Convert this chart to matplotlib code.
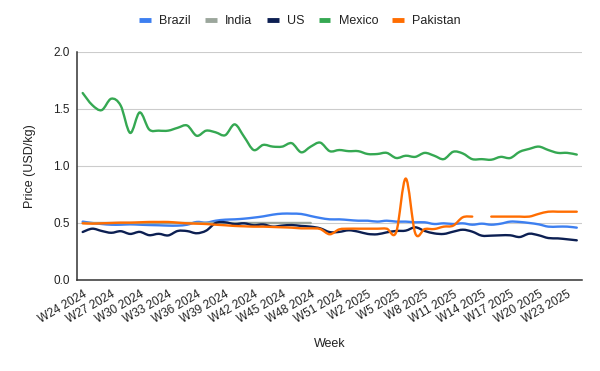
import numpy as np
import matplotlib
matplotlib.use("Agg")
import matplotlib.pyplot as plt
from matplotlib.path import Path
from matplotlib.patches import PathPatch
from matplotlib.lines import Line2D

plt.rcParams['font.family'] = ['Liberation Sans', 'DejaVu Sans']

nan = np.nan

# week categories, W24 2024 .. W24 2025
weeks = [f"W{w} 2024" for w in range(24, 53)] + [f"W{w} 2025" for w in range(1, 25)]

brazil = [0.512, 0.50, 0.491, 0.485, 0.485, 0.488, 0.485, 0.482, 0.48, 0.477,
          0.477, 0.485, 0.509, 0.503, 0.52, 0.529, 0.532, 0.538, 0.547, 0.558,
          0.573, 0.582, 0.582, 0.579, 0.561, 0.544, 0.532, 0.532, 0.526, 0.52,
          0.52, 0.512, 0.52, 0.512, 0.512, 0.506, 0.506, 0.491, 0.497, 0.491,
          0.497, 0.485, 0.494, 0.485, 0.494, 0.512, 0.509, 0.50, 0.488, 0.468,
          0.468, 0.468, 0.459]
india = [0.50, 0.50, 0.50, 0.50, 0.50, 0.50, 0.50, 0.50, 0.50, 0.50,
         0.50, 0.50, 0.50, 0.50, 0.50, 0.50, 0.50, 0.50, 0.50, 0.50,
         0.50, 0.50, 0.50, 0.50, 0.50, nan, nan, nan, nan, nan,
         nan, nan, nan, nan, nan, nan, nan, nan, nan, nan,
         nan, nan, nan, nan, nan, nan, nan, nan, nan, nan,
         nan, nan, nan]
us = [0.421, 0.45, 0.43, 0.414, 0.428, 0.404, 0.422, 0.393, 0.405, 0.391,
      0.43, 0.429, 0.41, 0.433, 0.50, 0.506, 0.49, 0.497, 0.48, 0.487,
      0.468, 0.477, 0.482, 0.474, 0.468, 0.453, 0.42, 0.422, 0.436, 0.424,
      0.404, 0.401, 0.418, 0.43, 0.433, 0.462, 0.43, 0.409, 0.404, 0.424,
      0.441, 0.424, 0.389, 0.389, 0.392, 0.392, 0.377, 0.406, 0.392, 0.368,
      0.365, 0.357, 0.348]
mexico = [1.64, 1.535, 1.49, 1.59, 1.53, 1.29, 1.47, 1.32, 1.31, 1.31,
          1.335, 1.355, 1.265, 1.31, 1.295, 1.27, 1.365, 1.255, 1.14, 1.185,
          1.17, 1.17, 1.20, 1.12, 1.17, 1.205, 1.13, 1.14, 1.13, 1.13,
          1.105, 1.105, 1.115, 1.07, 1.09, 1.08, 1.115, 1.09, 1.06, 1.125,
          1.11, 1.06, 1.06, 1.055, 1.08, 1.07, 1.125, 1.15, 1.17, 1.14,
          1.115, 1.115, 1.10]
pakistan = [0.497, 0.494, 0.497, 0.50, 0.503, 0.503, 0.506, 0.509, 0.509, 0.509,
            0.503, 0.497, 0.494, 0.491, 0.485, 0.48, 0.474, 0.471, 0.468, 0.468,
            0.465, 0.462, 0.459, 0.453, 0.453, 0.447, 0.401, 0.444, 0.45, 0.45,
            0.45, 0.45, 0.45, 0.42, 0.89, 0.41, 0.447, 0.447, 0.468, 0.477,
            0.55, 0.556, nan, 0.556, 0.556, 0.556, 0.556, 0.556, 0.58, 0.599,
            0.599, 0.599, 0.599]

series = [("Brazil", brazil, "#3d7ff0"),
          ("India", india, "#9ba69c"),
          ("US", us, "#0c1f52"),
          ("Mexico", mexico, "#35a852"),
          ("Pakistan", pakistan, "#ff6d01")]


def smooth_path(x, y):
    # catmull-rom style bezier through the points, split at gaps
    verts, codes = [], []
    ok = ~np.isnan(y)
    i = 0
    n = len(y)
    while i < n:
        if not ok[i]:
            i += 1
            continue
        j = i
        while j + 1 < n and ok[j + 1]:
            j += 1
        xs, ys = x[i:j + 1], y[i:j + 1]
        verts.append((xs[0], ys[0]))
        codes.append(Path.MOVETO)
        for k in range(len(xs) - 1):
            p0 = k - 1 if k > 0 else k
            p3 = k + 2 if k + 2 < len(xs) else k + 1
            c1 = (xs[k] + (xs[k + 1] - xs[p0]) / 6, ys[k] + (ys[k + 1] - ys[p0]) / 6)
            c2 = (xs[k + 1] - (xs[p3] - xs[k]) / 6, ys[k + 1] - (ys[p3] - ys[k]) / 6)
            verts += [c1, c2, (xs[k + 1], ys[k + 1])]
            codes += [Path.CURVE4] * 3
        i = j + 1
    return Path(verts, codes)


fig = plt.figure(figsize=(6, 3.71), dpi=100)
ax = fig.add_axes([0.1283, 0.2453, 0.8417, 0.6146])

x = np.arange(len(weeks), dtype=float)
handles = []
for z, (name, vals, col) in enumerate(series):
    p = smooth_path(x, np.array(vals, dtype=float))
    ax.add_patch(PathPatch(p, facecolor='none', edgecolor=col, lw=1.7,
                           capstyle='round', joinstyle='round', zorder=3 + z))
    handles.append(Line2D([], [], color=col, lw=3.5, solid_capstyle='butt'))

ax.set_xlim(-0.6, len(weeks) - 0.45)
ax.set_ylim(0, 2.0)
ax.set_yticks([0, 0.5, 1.0, 1.5, 2.0])
ax.set_yticklabels(["0.0", "0.5", "1.0", "1.5", "2.0"])
ax.set_xticks(x[::3])
ax.set_xticklabels(weeks[::3], rotation=30, ha='right', va='top',
                   rotation_mode='anchor')
ax.tick_params(axis='both', length=0, labelsize=8.5, colors='#222222')
ax.tick_params(axis='y', pad=5)
ax.tick_params(axis='x', pad=6)
ax.grid(axis='y', color='#cccccc', lw=0.8)
ax.set_axisbelow(True)
for s in ['top', 'right']:
    ax.spines[s].set_visible(False)
for s in ['left', 'bottom']:
    ax.spines[s].set_color('#333333')
    ax.spines[s].set_linewidth(1.1)

fig.text(329.5 / 600, 1 - 344 / 371, "Week", ha='center', va='center',
         fontsize=9, color='#222222')
fig.text(30 / 600, 1 - 166 / 371, "Price (USD/kg)", ha='center', va='center',
         rotation=90, fontsize=9, color='#222222')

fig.legend(handles, [s[0] for s in series], loc='center',
           bbox_to_anchor=(0.5, 1 - 21 / 371), ncol=5, frameon=False,
           fontsize=9, handlelength=0.95, handletextpad=0.65, columnspacing=1.15,
           labelcolor='#222222')

fig.savefig("out.png", dpi=100)
